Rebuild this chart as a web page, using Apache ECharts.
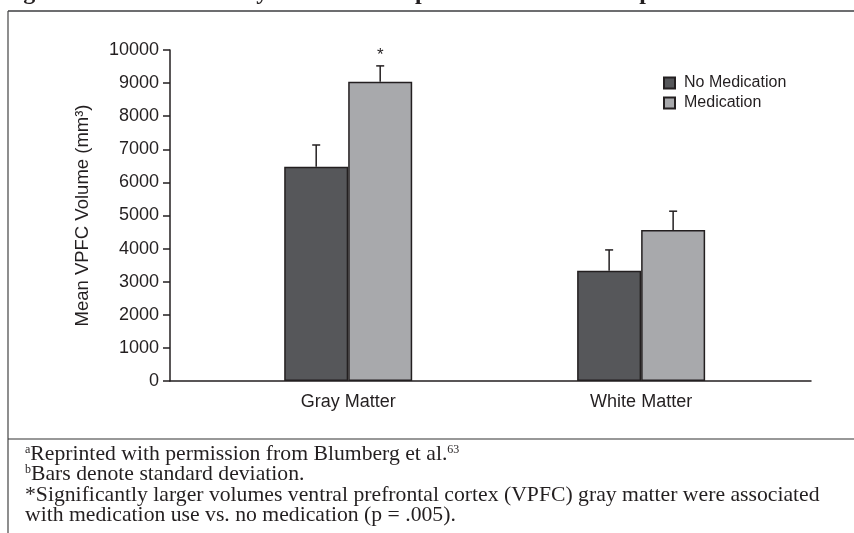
<!DOCTYPE html>
<html>
<head>
<meta charset="utf-8">
<script src="https://cdn.jsdelivr.net/npm/echarts@6/dist/echarts.min.js"></script>
<style>
html, body { margin: 0; padding: 0; background: #fff; }
#chart { width: 854px; height: 533px; }
</style>
</head>
<body>
<div id="chart"></div>
<script>
// data
const categories = ['Gray Matter', 'White Matter']
const categoryPos = [27.8, 73.5] // where each group sits on the hidden 0-100 x scale
const seriesNames = ['No Medication', 'Medication']
const noMedMean = [6470, 3330]
const noMedSd = [660, 630]
const medMean = [9040, 4560]
const medSd = [480, 570]
const medMarks = ['*', '']
const yMin = 0
const yMax = 10000
const yStep = 1000

const BAR_W = 64
const ink = '#231f20'
const dark = '#56575a'
const light = '#a8a9ac'
const sans = '"Liberation Sans", Arial, sans-serif'
const serif = '"Liberation Serif", "Times New Roman", serif'

const chart = echarts.init(document.getElementById('chart'))

function barSeries (name, means, color) {
  return {
    name: name,
    type: 'bar',
    barWidth: BAR_W,
    barGap: '0%',
    data: categoryPos.map((x, i) => [x, means[i]]),
    itemStyle: { color: color, borderColor: ink, borderWidth: 1.5 }
  }
}

// one-sided SD whiskers, shifted onto the centre of each bar
function sdSeries (name, means, sds, shift, marks) {
  return {
    name: name,
    type: 'custom',
    z: 3,
    data: categoryPos.map((x, i) => [x, means[i], sds[i]]),
    encode: { x: 0, y: 1 },
    renderItem (params, api) {
      const base = api.coord([api.value(0), api.value(1)])
      const top = api.coord([api.value(0), api.value(1) + api.value(2)])
      const x = base[0] + shift
      const line = { stroke: ink, lineWidth: 1.5 }
      const children = [
        { type: 'line', shape: { x1: x, y1: base[1], x2: x, y2: top[1] }, style: line },
        { type: 'line', shape: { x1: x - 4, y1: top[1], x2: x + 4, y2: top[1] }, style: line }
      ]
      const mark = marks && marks[params.dataIndex]
      if (mark) {
        children.push({
          type: 'text',
          style: { text: mark, x: x, y: top[1] - 11, align: 'center', verticalAlign: 'middle', fontSize: 17, fontFamily: sans, fill: ink }
        })
      }
      return { type: 'group', children: children }
    }
  }
}

const footnote = [
  '{sup|a}{t|Reprinted with permission from Blumberg et al.}{sup|63}',
  '{sup|b}{t|Bars denote standard deviation.}',
  '{t|*Significantly larger volumes ventral prefrontal cortex (VPFC) gray matter were associated}',
  '{t|with medication use vs. no medication (p = .005).}'
].join('\n')

chart.setOption({
  animation: false,
  backgroundColor: '#fff',
  textStyle: { fontFamily: sans, color: ink },
  grid: { left: 170, right: 43, top: 50, bottom: 152, containLabel: false },
  legend: {
    data: seriesNames,
    orient: 'vertical',
    left: 658,
    top: 70,
    icon: 'rect',
    itemWidth: 11,
    itemHeight: 11,
    itemGap: 4,
    textStyle: { fontSize: 16, color: ink, lineHeight: 15, padding: [0, 0, 0, 4] }
  },
  xAxis: {
    type: 'value',
    min: 0,
    max: 100,
    splitLine: { show: false },
    axisLine: { show: true, lineStyle: { color: ink, width: 1.5 } },
    axisTick: { show: false },
    axisLabel: {
      customValues: categoryPos,
      formatter: v => categories[categoryPos.indexOf(v)] || '',
      margin: 12,
      fontSize: 18,
      color: ink
    }
  },
  yAxis: {
    type: 'value',
    min: yMin,
    max: yMax,
    interval: yStep,
    name: 'Mean VPFC Volume (mm³)',
    nameLocation: 'middle',
    nameGap: 78,
    nameTextStyle: { fontSize: 18.5, color: ink },
    splitLine: { show: false },
    axisLine: { show: true, lineStyle: { color: ink, width: 1.5 } },
    axisTick: { show: true, length: 7, lineStyle: { color: ink, width: 1.5 } },
    axisLabel: { fontSize: 18, margin: 11, color: ink, formatter: v => String(v) }
  },
  series: [
    barSeries(seriesNames[0], noMedMean, dark),
    barSeries(seriesNames[1], medMean, light),
    sdSeries('No Medication SD', noMedMean, noMedSd, -BAR_W / 2, null),
    sdSeries('Medication SD', medMean, medSd, BAR_W / 2, medMarks)
  ],
  graphic: [
    {
      type: 'text',
      left: 2,
      top: -19,
      style: { text: 'Figure 3. Medication May Have a Neuroprotective Effect in Bipolar Disorder', fontSize: 24, fontWeight: 'bold', fontFamily: serif, fill: ink }
    },
    { type: 'line', shape: { x1: 8, y1: 11, x2: 854, y2: 11 }, style: { stroke: '#6d6e70', lineWidth: 2 } },
    { type: 'line', shape: { x1: 8, y1: 11, x2: 8, y2: 533 }, style: { stroke: '#444', lineWidth: 1.2 } },
    { type: 'line', shape: { x1: 8, y1: 439, x2: 854, y2: 439 }, style: { stroke: '#333', lineWidth: 1.2 } },
    {
      type: 'text',
      left: 25,
      top: 443,
      style: {
        text: footnote,
        fill: ink,
        rich: {
          t: { fontSize: 21.7, lineHeight: 20.5, fontFamily: serif, fill: ink },
          sup: { fontSize: 12, lineHeight: 12, fontFamily: serif, fill: ink, verticalAlign: 'top' }
        }
      }
    }
  ]
})
</script>
</body>
</html>
